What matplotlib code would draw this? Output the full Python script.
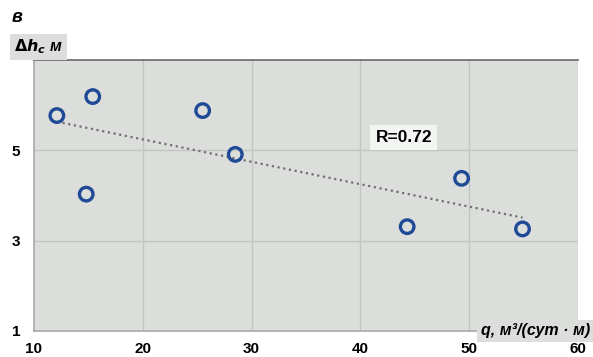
import numpy as np
import matplotlib.pyplot as plt

# Flow rate per metre of well vs. drawdown difference
q_vals = [12.1, 15.4, 14.8, 25.5, 28.5, 44.3, 49.3, 54.9]
dh_vals = [5.77, 6.19, 4.03, 5.88, 4.91, 3.31, 4.38, 3.26]
x_ticks = [10, 20, 30, 40, 50, 60]
y_ticks = [1, 3, 5]
r_label = "R=0.72"

plt.rcParams['font.family'] = ['Liberation Sans', 'DejaVu Sans']

fig = plt.figure(figsize=(5.93, 3.57), dpi=100)
ax = fig.add_axes([34 / 593, 1 - 331 / 357, (578 - 34) / 593, (331 - 60) / 357])
ax.set_facecolor('#dcdedc')
ax.set_xlim(10, 60)
ax.set_ylim(1, 7)

for xv in x_ticks[1:]:
    ax.axvline(xv, color='#c3c5c3', lw=1.0, zorder=1)
for yv in [3, 5]:
    ax.axhline(yv, color='#c3c5c3', lw=1.0, zorder=1)

# Linear trend across the data range
coef = np.polyfit(q_vals, dh_vals, 1)
xt = np.array([min(q_vals), max(q_vals)])
ax.plot(xt, np.polyval(coef, xt), color='#707070', lw=1.6,
        linestyle=(0, (1, 1.6)), zorder=2)

ax.scatter(q_vals, dh_vals, s=95, facecolors='none', edgecolors='#1f4a96',
           linewidths=2.4, zorder=3)

ax.text(44, 5.29, r_label, fontsize=12.5, fontweight='bold', ha='center', va='center',
        bbox=dict(boxstyle='square,pad=0.3', facecolor='#f3f5f3', edgecolor='none'),
        zorder=4)

ax.set_xticks(x_ticks)
ax.set_yticks(y_ticks)
ax.tick_params(length=0, labelsize=11)
ax.tick_params(axis='x', pad=8)
ax.tick_params(axis='y', pad=10)
for lbl in ax.get_xticklabels() + ax.get_yticklabels():
    lbl.set_fontweight('bold')

for s in ['left', 'bottom']:
    ax.spines[s].set_color('#a8aaa8')
    ax.spines[s].set_linewidth(1.2)
ax.spines['right'].set_visible(False)
ax.spines['top'].set_color('#6a6a6a')
ax.spines['top'].set_linewidth(1.2)

fig.text(12 / 593, 1 - 18 / 357, 'в', fontsize=13, fontweight='bold',
         fontstyle='italic', ha='left', va='center')
fig.text(14 / 593, 1 - 47 / 357, r'$\mathbf{\Delta}\mathbfit{h}_{\mathbfit{c}}$ м',
         fontsize=11.5, fontweight='bold', fontstyle='italic', ha='left', va='center',
         bbox=dict(boxstyle='square,pad=0.25', facecolor='#dcdedc', edgecolor='none'))
fig.text(590 / 593, 1 - 331 / 357, 'q, м³/(сут · м)', fontsize=11.5,
         fontweight='bold', fontstyle='italic', ha='right', va='center',
         bbox=dict(boxstyle='square,pad=0.25', facecolor='#dcdedc', edgecolor='none'))

fig.savefig('out.png', dpi=100)
